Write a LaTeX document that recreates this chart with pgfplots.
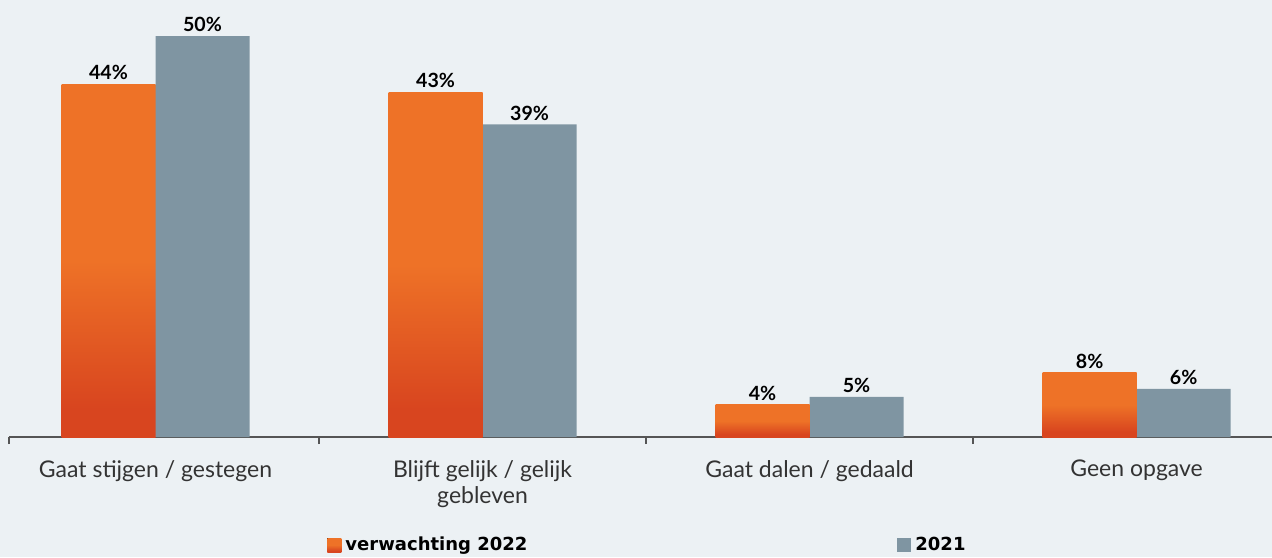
\documentclass[border=0pt]{standalone}
\usepackage{pgfplots}
\pgfplotsset{compat=1.18}
\usepackage{fontspec}
\setmainfont{Lato}
\newfontfamily\legfont{DejaVu Sans}
\definecolor{bg}{HTML}{ECF1F4}
\definecolor{orTop}{HTML}{EE7227}
\definecolor{orBot}{HTML}{D8451F}
\definecolor{grb}{HTML}{7F95A2}
\definecolor{axc}{HTML}{555555}
\definecolor{txt}{HTML}{333333}
\pgfdeclareverticalshading{barshade}{100bp}{color(0bp)=(orBot); color(29bp)=(orBot); color(50bp)=(orTop); color(100bp)=(orTop)}
\begin{document}
\begin{tikzpicture}
\fill[bg] (-4.5pt,-60pt) rectangle (631.5pt,218.5pt);
\path[use as bounding box] (-4.5pt,-60pt) rectangle (631.5pt,218.5pt);
\begin{axis}[
  at={(0,0)}, anchor=south west,
  scale only axis, width=631.5pt, height=218.5pt,
  xmin=-0.448, xmax=3.414, ymin=0, ymax=54.5,
  ybar=0pt, bar width=47pt,
  axis x line=bottom, axis y line=none,
  axis line style={axc, line width=1pt, -},
  /pgf/number format/assume math mode=true,
  xtick={-0.448,0.5,1.5,2.5},
  xticklabels={},
  tick align=outside,
  major tick length=3.5pt,
  major x tick style={draw=axc, line width=1pt},
  extra x ticks={0,1,2,3},
  extra x tick labels={Gaat stijgen / gestegen, {Blijft gelijk / gelijk\\gebleven}, Gaat dalen / gedaald, Geen opgave},
  extra x tick style={major tick length=0pt, major x tick style={draw=none},
     xticklabel style={align=center, font=\fontsize{11.5}{13}\selectfont, text=txt, anchor=north, yshift=-8pt}},
  nodes near coords={\pgfmathprintnumber{\pgfplotspointmeta}\%},
  every node near coord/.append style={font=\bfseries\fontsize{9.8}{11}\selectfont, text=black, yshift=-1.5pt},
  legend style={at={(0.5,0)}, anchor=center, xshift=4pt, yshift=-54pt, draw=none, fill=none, legend columns=2,
    font=\legfont\bfseries\fontsize{9}{11}\selectfont,
    /tikz/every even column/.append style={column sep=183pt},
    /tikz/every odd column/.append style={column sep=0pt},
    nodes={inner xsep=2pt}},
  legend image code/.code={\fill[#1] (0pt,-3.5pt) rectangle (7pt,3.5pt);},
]
\addplot[draw=none, shading=barshade, bar shift=-23.5pt] coordinates {(0,44)};
\addplot[draw=none, fill=grb, bar shift=23.5pt] coordinates {(0,50) (1,39) (2,5) (3,6)};
\addplot[draw=none, shading=barshade, bar shift=-23.5pt, forget plot] coordinates {(1,43)};
\addplot[draw=none, shading=barshade, bar shift=-23.5pt, forget plot] coordinates {(2,4)};
\addplot[draw=none, shading=barshade, bar shift=-23.5pt, forget plot] coordinates {(3,8)};
\legend{verwachting 2022, 2021}
\end{axis}
\end{tikzpicture}
\end{document}
